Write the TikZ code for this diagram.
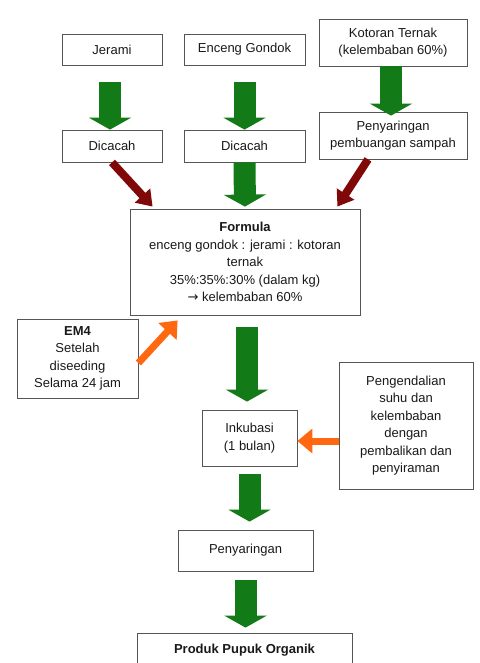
\documentclass[tikz,border=0pt]{standalone}
\usepackage{fontspec}
\setmainfont{Liberation Sans}
\newfontfamily\arrowfont{DejaVu Sans}
\usepackage{tikz}
\usetikzlibrary{arrows.meta, calc}

\definecolor{arrowgreen}{RGB}{18,122,22}
\definecolor{arrowred}{RGB}{128,8,8}
\definecolor{arroworange}{RGB}{255,104,16}
\definecolor{boxline}{RGB}{85,85,85}

\begin{document}
\begin{tikzpicture}[x=1pt, y=-1pt, line width=0.8pt,
    box/.style={draw=boxline, fill=white, align=center, inner sep=0pt,
      font=\fontsize{13}{17.5}\selectfont, text=black!90},
    greenflow/.style={draw=arrowgreen, line width=22pt,
      -{Triangle[width=42pt, length=12pt]}},
    redflow/.style={draw=arrowred, line width=8pt,
      -{Triangle[width=20pt, length=15pt]}},
    orangeflow/.style={draw=arroworange, line width=7pt,
      -{Triangle[width=24pt, length=15pt]}}]

    % fix the page size
    \useasboundingbox[fill=white] (0, 0) rectangle (479, 663);
    \clip (0, 0) rectangle (479, 663);

    % draw top row
    \node[box, minimum width=100, minimum height=31] (jerami) at (112, 49.5) {Jerami};
    \node[box, minimum width=121, minimum height=31] (enceng) at (244.5, 49.5) {Enceng Gondok};
    \node[box, minimum width=148, minimum height=47] (kotoran) at (393, 42.5)
      {Kotoran Ternak\\(kelembaban 60\%)};

    % draw second row
    \node[box, minimum width=100, minimum height=32] (cacah1) at (112, 146) {Dicacah};
    \node[box, minimum width=121, minimum height=32] (cacah2) at (244.5, 146) {Dicacah};
    \node[box, minimum width=148, minimum height=47] (saring1) at (393, 135.5)
      {Penyaringan\\pembuangan sampah};

    % draw formula and side boxes
    \node[box, minimum width=230, minimum height=106] (formula) at (245, 262)
      {\textbf{Formula}\\enceng gondok : jerami : kotoran\\ternak\\35\%:35\%:30\% (dalam kg)\\{\arrowfont →} kelembaban 60\%};
    \node[box, minimum width=121, minimum height=79] (em4) at (77.5, 358.5)
      {\textbf{EM4}\\Setelah\\diseeding\\Selama 24 jam};
    \node[box, minimum width=134, minimum height=127] (kendali) at (406, 425.5)
      {Pengendalian\\suhu dan\\kelembaban\\dengan\\pembalikan dan\\penyiraman};

    % draw lower chain
    \node[box, minimum width=95, minimum height=56] (inkubasi) at (249.5, 438)
      {Inkubasi\\(1 bulan)};
    \node[box, minimum width=135, minimum height=41] (saring2) at (245.5, 550.5) {Penyaringan};
    \node[box, minimum width=215, minimum height=34] (produk) at (244.5, 650)
      {\textbf{Produk Pupuk Organik}};

    % draw green arrows
    \draw[greenflow, shorten <=17pt] ([xshift=-2pt]jerami.south) -- ([xshift=-2pt]cacah1.north);
    \draw[greenflow, shorten <=17pt] (enceng.south) -- (cacah2.north);
    \draw[greenflow, shorten >=-4pt] ([xshift=-2pt]kotoran.south) -- ([xshift=-2pt]saring1.north);
    \draw[greenflow, shorten >=2pt] (cacah2.south) -- (formula.north);
    \draw[greenflow, shorten <=12pt, shorten >=8pt] ([xshift=2pt]formula.south) -- ([xshift=2pt]formula.south |- inkubasi.north);
    \draw[greenflow, shorten <=8pt, shorten >=8pt] (inkubasi.south) -- (inkubasi.south |- saring2.north);
    \draw[greenflow, shorten <=9pt, shorten >=5pt] (saring2.south) -- (saring2.south |- produk.north);

    % draw red arrows
    \draw[redflow] (cacah1.south) -- ($(formula.north west)+(23, -2)$);
    \draw[redflow] ($(saring1.south)+(-25, 0)$) -- ($(formula.north east)+(-23, -2)$);

    % draw orange arrows
    \draw[orangeflow] ($(em4.east)+(0, 4.5)$) -- ($(formula.south west)+(48, 5)$);
    \draw[orangeflow] ($(kendali.west |- inkubasi.east)+(0, 3)$) -- ($(inkubasi.east)+(0, 3)$);

\end{tikzpicture}
\end{document}
